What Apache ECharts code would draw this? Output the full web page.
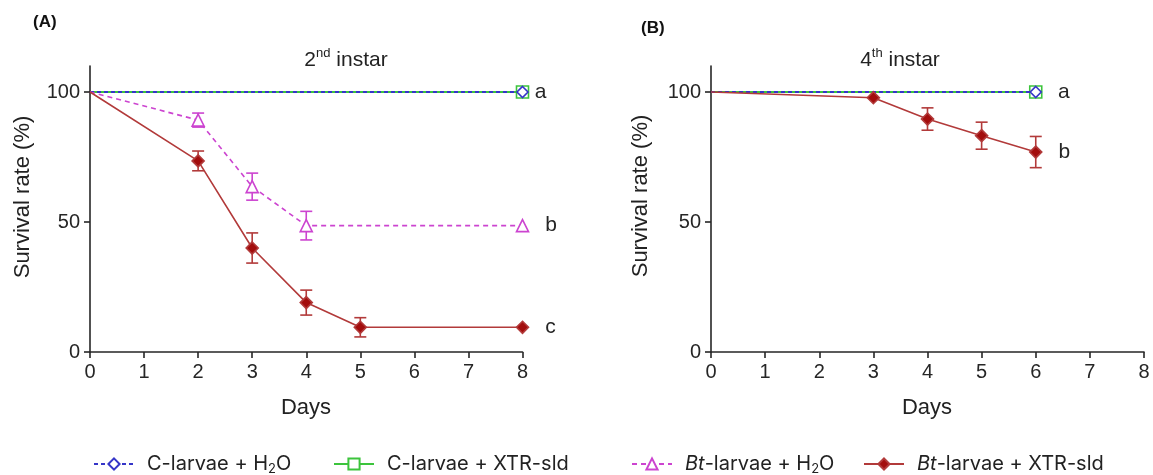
<!DOCTYPE html>
<html>
<head>
<meta charset="utf-8">
<script src="https://cdn.jsdelivr.net/npm/echarts@6/dist/echarts.min.js"></script>
<style>html,body{margin:0;padding:0;background:#fff}#c{width:1153px;height:475px}</style>
</head>
<body>
<div id="c"></div>
<script>
// ---- Data ----
// Panel A (2nd instar)
const aCtrlDays = [0, 8];
const aCtrlH2O = [100, 100];
const aCtrlXtr = [100, 100];
const aBtH2ODays = [0, 2, 3, 4, 8];
const aBtH2O = [100, 89.2, 63.6, 48.6, 48.6];
const aBtH2OErr = [0, 2.7, 5.2, 5.5, 0];
const aBtXtrDays = [0, 2, 3, 4, 5, 8];
const aBtXtr = [100, 73.5, 40, 19, 9.5, 9.5];
const aBtXtrErr = [0, 3.8, 5.8, 4.8, 3.7, 0];
const aLetters = ['a', 'b', 'c'];
// Panel B (4th instar)
const bCtrlDays = [0, 6];
const bCtrlH2O = [100, 100];
const bCtrlXtr = [100, 100];
const bBtXtrDays = [0, 3, 4, 5, 6];
const bBtXtr = [100, 97.8, 89.6, 83.2, 76.9];
const bBtXtrErr = [0, 0, 4.3, 5.2, 6];
const bLetters = ['a', 'b'];
// Axis ticks
const xTicks = [0, 1, 2, 3, 4, 5, 6, 7, 8];
const yTicks = [0, 50, 100];
const names = ['C-larvae + H2O', 'C-larvae + XTR-sld', 'Bt-larvae + H2O', 'Bt-larvae + XTR-sld'];

// ---- Styles ----
const FONT = 'Liberation Sans, Arial, sans-serif';
const LFONT = 'Inter, Noto Sans, sans-serif';
const BLUE = '#3535c8', GREEN = '#3cc43c', MAG = '#cc44d0', RED = '#a30d0d', REDL = '#b23a3a';
const AX = '#262626';

function pts(days, vals, letter, dist) {
  return days.map((d, i) => {
    const it = { value: [d, vals[i]] };
    if (i === 0) it.symbol = 'none';
    if (letter && i === days.length - 1) {
      it.label = { show: true, formatter: letter, position: 'right', distance: dist, fontSize: 21, color: AX, fontFamily: FONT };
    }
    return it;
  });
}
function errData(days, vals, errs) {
  const out = [];
  days.forEach((d, i) => { if (errs[i] > 0) out.push([d, vals[i] - errs[i], vals[i] + errs[i]]); });
  return out;
}
function errSeries(idx, data, color) {
  return {
    type: 'custom', xAxisIndex: idx, yAxisIndex: idx, data: data, z: 3, silent: true,
    encode: { x: 0, y: [1, 2] },
    renderItem: function (params, api) {
      const lo = api.coord([api.value(0), api.value(1)]);
      const hi = api.coord([api.value(0), api.value(2)]);
      const w = 6;
      const st = { stroke: color, lineWidth: 1.6 };
      return { type: 'group', children: [
        { type: 'line', shape: { x1: lo[0], y1: lo[1], x2: hi[0], y2: hi[1] }, style: st },
        { type: 'line', shape: { x1: lo[0] - w, y1: lo[1], x2: lo[0] + w, y2: lo[1] }, style: st },
        { type: 'line', shape: { x1: hi[0] - w, y1: hi[1], x2: hi[0] + w, y2: hi[1] }, style: st }
      ]};
    }
  };
}
function xAxis(idx) {
  return {
    type: 'value', gridIndex: idx, min: 0, max: 8, interval: 1,
    axisLine: { lineStyle: { color: AX, width: 1.6 } },
    axisTick: { length: 6, lineStyle: { color: AX, width: 1.6 } },
    axisLabel: { color: AX, fontSize: 20, fontFamily: FONT, margin: 10, customValues: xTicks },
    splitLine: { show: false }
  };
}
function yAxis(idx) {
  return {
    type: 'value', gridIndex: idx, min: 0, max: 110,
    axisLine: { show: true, lineStyle: { color: AX, width: 1.6 } },
    axisTick: { show: true, length: 6, lineStyle: { color: AX, width: 1.6 }, customValues: yTicks },
    axisLabel: { color: AX, fontSize: 20, fontFamily: FONT, margin: 10, customValues: yTicks },
    splitLine: { show: false }
  };
}
function lineS(name, idx, data, color, type, width, symbol, size, fill, z) {
  return {
    name: name, type: 'line', xAxisIndex: idx, yAxisIndex: idx, data: data, z: z,
    symbol: symbol, symbolSize: size, showAllSymbol: true,
    lineStyle: { color: color, width: width, type: type },
    itemStyle: { color: fill, borderColor: color, borderWidth: 1.6 },
    emphasis: { disabled: true }, animation: false
  };
}

const series = [
  // Panel A
  lineS(names[1], 0, pts(aCtrlDays, aCtrlXtr), GREEN, 'solid', 2, 'rect', 12, '#fff', 4),
  lineS(names[0], 0, pts(aCtrlDays, aCtrlH2O, aLetters[0], 6), BLUE, [4, 3], 2, 'diamond', 11, '#fff', 5),
  lineS(names[2], 0, pts(aBtH2ODays, aBtH2O, aLetters[1], 16), MAG, [5, 4], 1.6, 'triangle', 12, '#fff', 5),
  lineS(names[3], 0, pts(aBtXtrDays, aBtXtr, aLetters[2], 16), REDL, 'solid', 1.6, 'diamond', 12, RED, 6),
  errSeries(0, errData(aBtH2ODays, aBtH2O, aBtH2OErr), MAG),
  errSeries(0, errData(aBtXtrDays, aBtXtr, aBtXtrErr), REDL),
  // Panel B
  lineS(names[1], 1, pts(bCtrlDays, bCtrlXtr), GREEN, 'solid', 2, 'rect', 12, '#fff', 4),
  lineS(names[0], 1, pts(bCtrlDays, bCtrlH2O, bLetters[0], 16), BLUE, [4, 3], 2, 'diamond', 11, '#fff', 5),
  lineS(names[3], 1, pts(bBtXtrDays, bBtXtr, bLetters[1], 16), REDL, 'solid', 1.6, 'diamond', 12, RED, 6),
  errSeries(1, errData(bBtXtrDays, bBtXtr, bBtXtrErr), REDL)
];

const legendRich = {
  n: { fontSize: 20, fontFamily: LFONT, color: '#222', lineHeight: 24 },
  it: { fontSize: 20, fontFamily: LFONT, color: '#222', fontStyle: 'italic', lineHeight: 24 },
  sub: { fontSize: 13, fontFamily: LFONT, color: '#222', verticalAlign: 'bottom', lineHeight: 14 }
};
function legendFmt(name) {
  if (name === names[0]) return '{n|C-larvae + H}{sub|2}{n|O}';
  if (name === names[1]) return '{n|C-larvae + XTR-sld}';
  if (name === names[2]) return '{it|Bt}{n|-larvae + H}{sub|2}{n|O}';
  return '{it|Bt}{n|-larvae + XTR-sld}';
}
const legendLefts = [88, 328, 626, 858];
const legends = names.map((n, i) => ({
  data: [n], left: legendLefts[i], top: 449, itemWidth: 40, itemHeight: 14,
  selectedMode: false, formatter: legendFmt,
  textStyle: { rich: legendRich, padding: [0, 0, 0, 8] }
}));

const titleRich = {
  n: { fontSize: 21, fontFamily: FONT, fill: '#222', lineHeight: 26 },
  sup: { fontSize: 13, fontFamily: FONT, fill: '#222', verticalAlign: 'top', lineHeight: 26 }
};

const chart = echarts.init(document.getElementById('c'), null, { renderer: 'canvas' });
chart.setOption({
  animation: false,
  backgroundColor: '#fff',
  grid: [
    { left: 90, top: 66, width: 432.5, height: 286 },
    { left: 711, top: 66, width: 433, height: 286 }
  ],
  xAxis: [xAxis(0), xAxis(1)],
  yAxis: [yAxis(0), yAxis(1)],
  legend: legends,
  series: series,
  graphic: [
    { type: 'text', left: 33, top: 14, style: { text: '(A)', font: 'bold 17px ' + FONT, fill: '#111' } },
    { type: 'text', left: 641, top: 20, style: { text: '(B)', font: 'bold 17px ' + FONT, fill: '#111' } },
    { type: 'text', x: 346, y: 60, style: { text: '2{sup|nd} instar', rich: titleRich, font: '21px ' + FONT, fill: '#222', align: 'center', verticalAlign: 'middle' } },
    { type: 'text', x: 900, y: 60, style: { text: '4{sup|th} instar', rich: titleRich, font: '21px ' + FONT, fill: '#222', align: 'center', verticalAlign: 'middle' } },
    { type: 'text', x: 306, y: 408, style: { text: 'Days', font: '22px ' + FONT, fill: '#222', align: 'center', verticalAlign: 'middle' } },
    { type: 'text', x: 927, y: 408, style: { text: 'Days', font: '22px ' + FONT, fill: '#222', align: 'center', verticalAlign: 'middle' } },
    { type: 'text', x: 23, y: 197, rotation: Math.PI / 2, style: { text: 'Survival rate (%)', font: '22px ' + FONT, fill: '#222', align: 'center', verticalAlign: 'middle' } },
    { type: 'text', x: 641, y: 196, rotation: Math.PI / 2, style: { text: 'Survival rate (%)', font: '22px ' + FONT, fill: '#222', align: 'center', verticalAlign: 'middle' } }
  ]
});
</script>
</body>
</html>
